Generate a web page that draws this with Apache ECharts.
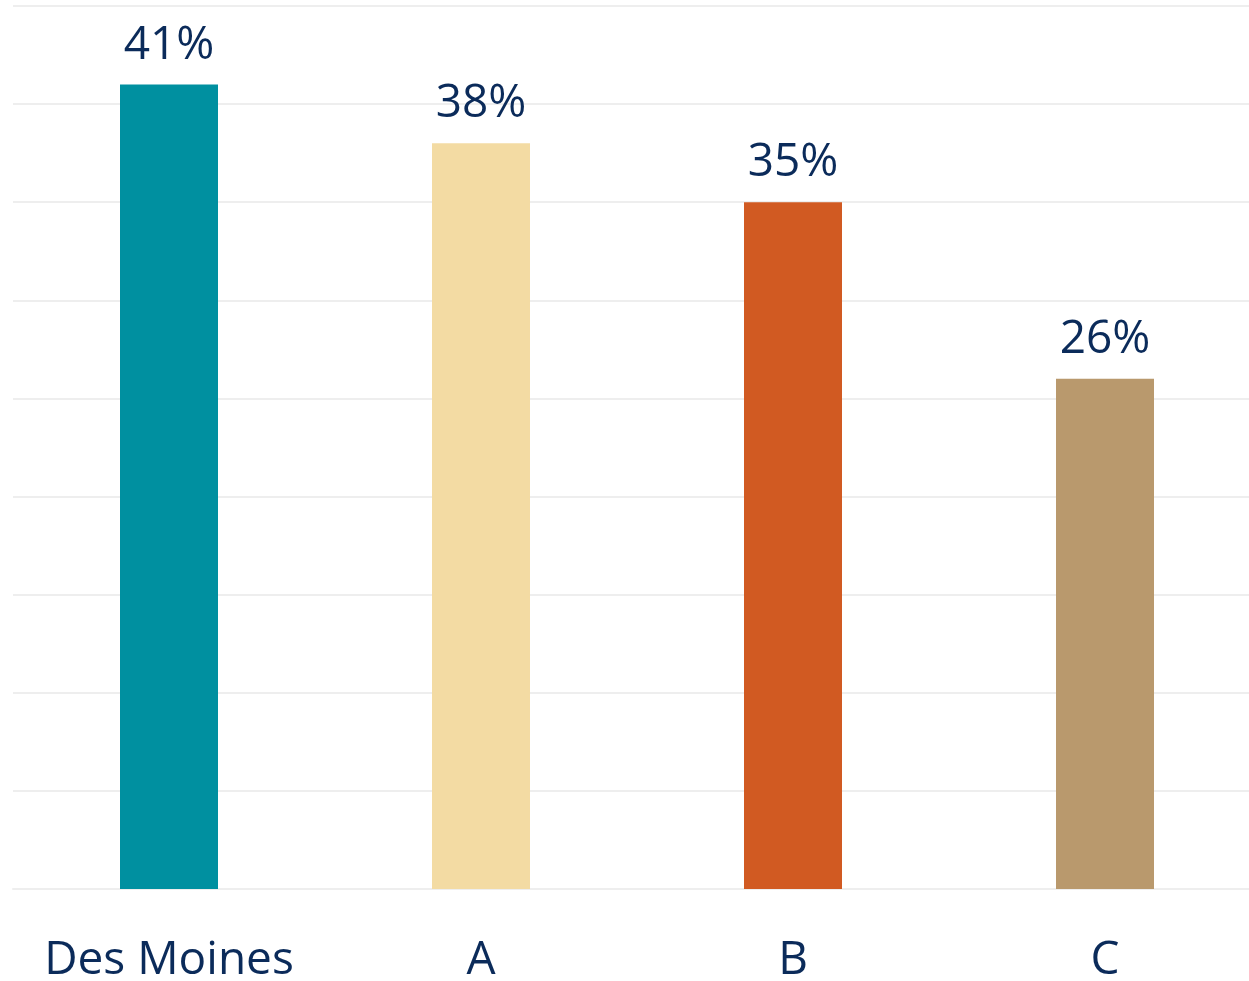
<!DOCTYPE html>
<html><head><meta charset="utf-8">
<script src="https://cdn.jsdelivr.net/npm/echarts@6/dist/echarts.min.js"></script>
<style>html,body{margin:0;padding:0;background:#fff;overflow:hidden}#c{width:1261px;height:981px}</style>
</head><body><div id="c"></div>
<script>
const categories = ['Des Moines', 'A', 'B', 'C'];
const values = [41, 38, 35, 26];
const colors = ['#0090A0', '#F3DBA3', '#D15A22', '#B9996D'];
const textColor = '#0B2B5A';
const chart = echarts.init(document.getElementById('c'), null, {renderer: 'canvas'});
chart.setOption({
  animation: false,
  grid: {left: 13, top: 6, right: 0, bottom: 92, containLabel: false, outerBoundsMode: 'none'},
  xAxis: {
    type: 'category', data: categories,
    axisLine: {show: true, lineStyle: {color: '#eeeeee', width: 2}},
    axisTick: {show: false},
    axisLabel: {color: textColor, fontSize: 46, fontFamily: 'Open Sans', margin: 49, interval: 0}
  },
  yAxis: {
    type: 'value', min: 0, max: 45, interval: 5,
    axisLabel: {show: false}, axisLine: {show: false}, axisTick: {show: false},
    splitLine: {lineStyle: {color: '#eeeeee', width: 2}}
  },
  series: [{
    type: 'bar', barWidth: 98,
    data: values.map((v, i) => ({value: v, itemStyle: {color: colors[i]}})),
    label: {show: true, position: 'top', distance: 16, formatter: '{c}%', color: textColor, fontSize: 46, fontFamily: 'Open Sans'}
  }]
});
</script></body></html>
